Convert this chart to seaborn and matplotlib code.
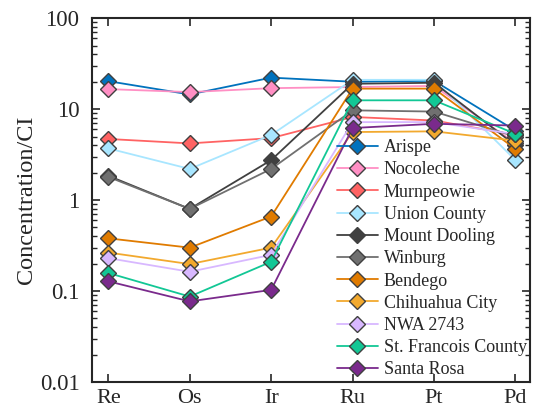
import matplotlib
matplotlib.use("Agg")
import matplotlib.pyplot as plt
import matplotlib.ticker as mticker
import seaborn as sns
import pandas as pd

# element order along x
elements = ["Re", "Os", "Ir", "Ru", "Pt", "Pd"]

# concentrations normalised to CI
arispe = [20.3, 14.5, 22.2, 20.0, 20.5, 5.8]
nocoleche = [16.6, 15.4, 17.0, 17.5, 18.0, 4.2]
murnpeowie = [4.7, 4.2, 4.8, 8.2, 7.5, 5.2]
union_county = [3.7, 2.2, 5.2, 21.0, 21.0, 2.75]
mount_dooling = [1.85, 0.80, 2.75, 19.0, 19.5, 4.0]
winburg = [1.8, 0.80, 2.2, 9.7, 9.4, 5.0]
bendego = [0.38, 0.30, 0.66, 16.8, 16.8, 3.65]
chihuahua_city = [0.265, 0.198, 0.30, 5.6, 5.7, 4.5]
nwa_2743 = [0.23, 0.163, 0.25, 7.2, 7.2, 5.3]
st_francois = [0.158, 0.087, 0.21, 12.5, 12.5, 5.35]
santa_rosa = [0.128, 0.077, 0.103, 6.2, 6.9, 6.6]

names = ["Arispe", "Nocoleche", "Murnpeowie", "Union County", "Mount Dooling",
         "Winburg", "Bendego", "Chihuahua City", "NWA 2743", "St. Francois County",
         "Santa Rosa"]
series = [arispe, nocoleche, murnpeowie, union_county, mount_dooling, winburg,
          bendego, chihuahua_city, nwa_2743, st_francois, santa_rosa]
colors = ["#0072BD", "#FF8FC4", "#FF6363", "#A8E6FF", "#404040", "#707070",
          "#E07B00", "#F2A92E", "#D8B8FF", "#12C795", "#7A2A8C"]

rows = []
for name, vals in zip(names, series):
    for el, v in zip(elements, vals):
        rows.append({"element": el, "value": v, "meteorite": name})
df = pd.DataFrame(rows)

sns.set_style("ticks")
plt.rcParams["font.family"] = ["Liberation Serif", "DejaVu Serif"]

fig = plt.figure(figsize=(5.33, 4.13), dpi=100)
ax = fig.add_axes([0.1726, 0.075, 0.822, 0.881])

for name, col in zip(names, colors):
    sub = df[df["meteorite"] == name]
    sns.lineplot(data=sub, x="element", y="value", ax=ax, color=col, label=name,
                 marker="D", markersize=8.5, markeredgecolor="#404040",
                 markeredgewidth=1.0, linewidth=1.3, sort=False)

ax.set_yscale("log")
ax.set_ylim(0.01, 100)
ax.set_xlim(-0.2, 5.18)
ax.yaxis.set_major_formatter(mticker.FuncFormatter(lambda v, p: f"{v:g}"))
ax.set_xlabel("")
ax.set_ylabel("Concentration/CI", fontsize=17.5, labelpad=2)
ax.tick_params(axis="both", which="both", direction="in", top=True, right=True,
               labelsize=16.5, colors="#262626")
ax.tick_params(axis="x", which="minor", top=False, bottom=False)
ax.tick_params(which="major", length=6, width=1.2)
ax.tick_params(which="minor", length=3.5, width=1.0)
ax.tick_params(axis="x", pad=5, labelsize=16)
ax.tick_params(axis="y", pad=9)
for s in ax.spines.values():
    s.set_linewidth(1.5)
    s.set_color("#262626")

leg = ax.legend(loc="lower right", bbox_to_anchor=(1.025, -0.03), frameon=False,
                fontsize=13, handlelength=2.3, labelspacing=0.29,
                handletextpad=0.3, borderpad=0.3)

fig.savefig("out.png", dpi=100)
